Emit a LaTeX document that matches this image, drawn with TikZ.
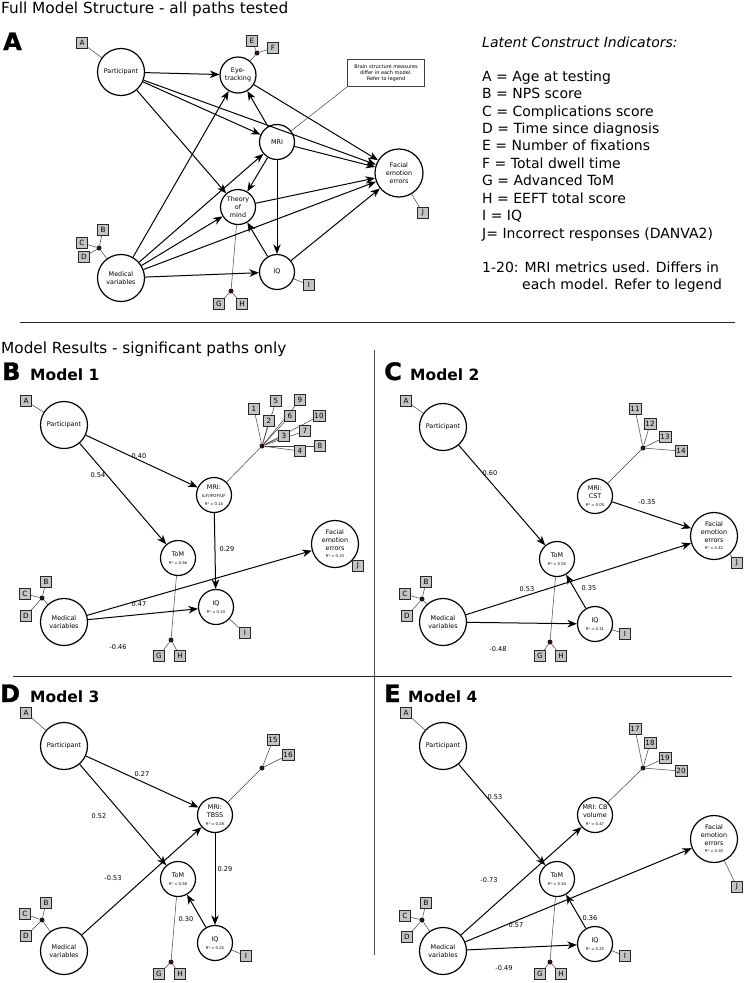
\documentclass[tikz,border=0pt]{standalone}
\usepackage{fontspec}
\setmainfont{DejaVu Sans}
\newfontfamily\heavyfont{DejaVu Sans Bold}[FakeBold=1.2]
\usetikzlibrary{arrows.meta,backgrounds}
\definecolor{dotc}{HTML}{2A1222}
\definecolor{boxg}{HTML}{C4C4C4}
\newcommand\rsq{\fontsize{3.8}{4.6}\selectfont}
\begin{document}
\begin{tikzpicture}[x=1pt,y=-1pt,
 lat/.style={circle,draw,line width=1.2pt,inner sep=0pt,align=center,fill=white,font=\fontsize{6.4}{7.7}\selectfont},
 lg/.style={lat,minimum size=47pt},
 sm/.style={lat,minimum size=35pt},
 ind/.style={draw=black!85,fill=boxg,line width=0.7pt,minimum width=11.5pt,minimum height=11.5pt,inner xsep=1.3pt,inner ysep=0pt,font=\fontsize{7.2}{8}\selectfont},
 jn/.style={circle,fill=dotc,inner sep=0pt,minimum size=5pt},
 pth/.style={-{Stealth[length=9.5pt,width=7.5pt,inset=3pt]},line width=1pt},
 thn/.style={line width=0.5pt,draw=black!75},
 cf/.style={font=\fontsize{6.6}{7}\selectfont},
 note/.style={draw=black!75,line width=0.9pt,fill=white,align=center,font=\fontsize{5}{6}\selectfont,minimum width=77pt,minimum height=27pt,inner sep=1pt},
 ttl/.style={anchor=base west,font=\fontsize{15.3}{18}\selectfont,inner sep=0pt},
 big/.style={anchor=base west,font=\fontsize{24}{28}\selectfont\heavyfont,inner sep=0pt},
 mdl/.style={anchor=base west,font=\fontsize{15.5}{18}\selectfont\bfseries,inner sep=0pt},
 leg/.style={anchor=base west,font=\fontsize{14}{17}\selectfont,inner sep=0pt}
]
\useasboundingbox (0,0) rectangle (744,983);

% ---------------- titles and dividers ----------------
\node[ttl] (t1) at (1,13) {Full Model Structure - all paths tested};
\node[big] (lA) at (3,50) {A};
\node[ttl] (t2) at (1,353) {Model Results - significant paths only};
\node[big] (lB) at (2,380) {B};
\node[mdl] (mB) at (30,380) {Model 1};
\node[big] (lC) at (384,380) {C};
\node[mdl] (mC) at (410,380) {Model 2};
\node[big] (lD) at (0,702) {D};
\node[mdl] (mD) at (30,702) {Model 3};
\node[big] (lE) at (384,702) {E};
\node[mdl] (mE) at (408,702) {Model 4};
\draw[line width=1pt,black!85] (20,322) -- (735,322);
\draw[line width=1pt,black!85] (13,676) -- (732,676);
\draw[line width=1pt,black!70] (374,350) -- (374,955);

% ---------------- legend ----------------
\node[leg,font=\fontsize{14}{17}\selectfont\itshape] (lg0) at (482,47) {Latent Construct Indicators:};
\node[leg] (lg1) at (482,81) {A = Age at testing};
\node[leg] (lg2) at (482,98.5) {B = NPS score};
\node[leg] (lg3) at (482,116) {C = Complications score};
\node[leg] (lg4) at (482,133.4) {D = Time since diagnosis};
\node[leg] (lg5) at (482,150.8) {E = Number of fixations};
\node[leg] (lg6) at (482,168.3) {F = Total dwell time};
\node[leg] (lg7) at (482,185.7) {G = Advanced ToM};
\node[leg] (lg8) at (482,203.2) {H = EEFT total score};
\node[leg] (lg9) at (482,220.6) {I = IQ};
\node[leg] (lg10) at (482,238) {J= Incorrect responses (DANVA2)};
\node[leg] (lg11) at (482,272) {1-20: MRI metrics used. Differs in};
\node[leg] (lg12) at (522,289.5) {each model. Refer to legend};

% ================= PANEL A =================
\node[lg] (aP) at (121,72) {Participant};
\node[lat,minimum size=36pt] (aE) at (238,75) {Eye-\\tracking};
\node[sm] (aM) at (277,142) {MRI};
\node[lg,minimum size=48pt] (aF) at (399,173) {Facial\\emotion\\errors};
\node[sm] (aT) at (238,207) {Theory\\of\\mind};
\node[sm] (aQ) at (277,272) {IQ};
\node[lg] (aD) at (121,278) {Medical\\variables};
\node[note] (anote) at (386,73) {Brain structure measures\\differ in each model.\\Refer to legend};
\node[ind] (aiA) at (82,43) {A};
\node[ind] (aiE) at (252,41) {E};
\node[ind] (aiF) at (273,48) {F};
\node[jn] (ajEF) at (257,53) {};
\node[ind] (aiJ) at (423,213) {J};
\node[ind] (aiI) at (309,285) {I};
\node[ind] (aiB) at (103,230) {B};
\node[ind] (aiC) at (82,243) {C};
\node[ind] (aiD) at (84,257) {D};
\node[jn] (ajBCD) at (99,248) {};
\node[jn] (ajGH) at (231,291) {};
\node[ind] (aiG) at (219,304) {G};
\node[ind] (aiH) at (242,304) {H};
\begin{scope}[on background layer]
\draw[thn] (aiA) -- (aP);
\draw[thn] (aE) -- (ajEF) (ajEF) -- (aiE) (ajEF) -- (aiF);
\draw[thn] (aF) -- (aiJ);
\draw[thn] (aQ) -- (aiI);
\draw[thn] (aD) -- (ajBCD) (ajBCD) -- (aiB) (ajBCD) -- (aiC) (ajBCD) -- (aiD);
\draw[thn] (aT) -- (ajGH) (ajGH) -- (aiG) (ajGH) -- (aiH);
\draw[thn] (aM) -- (anote.south west);
\end{scope}
\draw[pth] (aP) -- (aE);
\draw[pth] (aP) -- (aF);
\draw[pth] (aP) -- (aM);
\draw[pth] (aP) -- (aT);
\draw[pth] (aD) -- (aE);
\draw[pth] (aD) -- (aM);
\draw[pth] (aD) -- (aT);
\draw[pth] (aD) -- (aF);
\draw[pth] (aD) -- (aQ);
\draw[pth] (aM) -- (aE);
\draw[pth] (aM) -- (aT);
\draw[pth] (aM) -- (aQ);
\draw[pth] (aM) -- (aF);
\draw[pth] (aE) -- (aF);
\draw[pth] (aT) -- (aF);
\draw[pth] (aQ) -- (aF);
\draw[pth] (aQ) -- (aT);

% ================= PANEL B =================
\node[lg] (bP) at (64,425) {Participant};
\node[sm] (bM) at (214,495) {MRI:\\{\fontsize{4.2}{5}\selectfont ILF/IFOF/UF}\\{\rsq R² = 0.15}};
\node[lg] (bF) at (335,544) {Facial\\emotion\\errors\\{\rsq R² = 0.33}};
\node[sm] (bT) at (178,558) {ToM\\{\rsq R² = 0.56}};
\node[sm] (bQ) at (216,607) {IQ\\{\rsq R² = 0.33}};
\node[lg] (bD) at (64,622) {Medical\\variables};
\node[ind] (biA) at (26,401) {A};
\node[jn] (bj1) at (262,446) {};
\node[ind] (bi1) at (254,409) {1};
\node[ind] (bi5) at (276,401) {5};
\node[ind] (bi9) at (300,400) {9};
\node[ind] (bi2) at (269,421) {2};
\node[ind] (bi6) at (290,416) {6};
\node[ind] (bi10) at (319,416) {10};
\node[ind] (bi7) at (305,431) {7};
\node[ind] (bi3) at (284,436) {3};
\node[ind] (bi8) at (320,446) {8};
\node[ind] (bi4) at (300,451) {4};
\node[ind] (biJ) at (358,566) {J};
\node[ind] (biI) at (245,633) {I};
\node[ind] (biB) at (46,582) {B};
\node[ind] (biC) at (25,594) {C};
\node[ind] (biD) at (26,616) {D};
\node[jn] (bjB) at (42,598) {};
\node[jn] (bjG) at (171,640) {};
\node[ind] (biG) at (159,656) {G};
\node[ind] (biH) at (180,656) {H};
\begin{scope}[on background layer]
\draw[thn] (biA) -- (bP);
\draw[thn] (bM) -- (bj1);
\foreach \k in {1,...,10} {\draw[thn] (bj1) -- (bi\k);}
\draw[thn] (bF) -- (biJ);
\draw[thn] (bQ) -- (biI);
\draw[thn] (bD) -- (bjB) (bjB) -- (biB) (bjB) -- (biC) (bjB) -- (biD);
\draw[thn] (bT) -- (bjG) (bjG) -- (biG) (bjG) -- (biH);
\end{scope}
\draw[pth] (bP) -- (bM);
\draw[pth] (bP) -- (bT);
\draw[pth] (bM) -- (bQ);
\draw[pth] (bD) -- (bF);
\draw[pth] (bD) -- (bQ);
\node[cf] (bc1) at (139,456) {0.40};
\node[cf] (bc2) at (98,475) {0.54};
\node[cf] (bc3) at (227,549) {0.29};
\node[cf] (bc4) at (139,604) {0.47};
\node[cf] (bc5) at (118,647) {-0.46};

% ================= PANEL C =================
\node[lg] (cP) at (443,427) {Participant};
\node[sm] (cM) at (595,496) {MRI:\\CST\\{\rsq R² = 0.05}};
\node[lg] (cF) at (714,536) {Facial\\emotion\\errors\\{\rsq R² = 0.42}};
\node[sm] (cT) at (557,559) {ToM\\{\rsq R² = 0.55}};
\node[sm] (cQ) at (595,624) {IQ\\{\rsq R² = 0.31}};
\node[lg] (cD) at (443,622) {Medical\\variables};
\node[ind] (ciA) at (406,401) {A};
\node[jn] (cj1) at (643,448) {};
\node[ind] (ci11) at (635,409) {11};
\node[ind] (ci12) at (650,424) {12};
\node[ind] (ci13) at (665,437) {13};
\node[ind] (ci14) at (681,451) {14};
\node[ind] (ciJ) at (737,563) {J};
\node[ind] (ciI) at (625,634) {I};
\node[ind] (ciB) at (426,582) {B};
\node[ind] (ciC) at (405,594) {C};
\node[ind] (ciD) at (407,616) {D};
\node[jn] (cjB) at (422,599) {};
\node[jn] (cjG) at (550,642) {};
\node[ind] (ciG) at (540,656) {G};
\node[ind] (ciH) at (561,656) {H};
\begin{scope}[on background layer]
\draw[thn] (ciA) -- (cP);
\draw[thn] (cM) -- (cj1);
\foreach \k in {11,...,14} {\draw[thn] (cj1) -- (ci\k);}
\draw[thn] (cF) -- (ciJ);
\draw[thn] (cQ) -- (ciI);
\draw[thn] (cD) -- (cjB) (cjB) -- (ciB) (cjB) -- (ciC) (cjB) -- (ciD);
\draw[thn] (cT) -- (cjG) (cjG) -- (ciG) (cjG) -- (ciH);
\end{scope}
\draw[pth] (cP) -- (cT);
\draw[pth] (cM) -- (cF);
\draw[pth] (cD) -- (cF);
\draw[pth] (cD) -- (cQ);
\draw[pth] (cQ) -- (cT);
\node[cf] (cc1) at (490,473) {0.60};
\node[cf] (cc2) at (647,502) {-0.35};
\node[cf] (cc3) at (527,589) {0.53};
\node[cf] (cc4) at (589,588) {0.35};
\node[cf] (cc5) at (498,649) {-0.48};

% ================= PANEL D =================
\node[lg] (dP) at (64,746) {Participant};
\node[sm] (dM) at (215,815) {MRI:\\TBSS\\{\rsq R² = 0.28}};
\node[sm] (dT) at (178,879) {ToM\\{\rsq R² = 0.58}};
\node[sm] (dQ) at (215,943) {IQ\\{\rsq R² = 0.25}};
\node[lg] (dD) at (64,951) {Medical\\variables};
\node[ind] (diA) at (26,713) {A};
\node[jn] (dj1) at (262,768) {};
\node[ind] (di15) at (273,740) {15};
\node[ind] (di16) at (288,755) {16};
\node[ind] (diI) at (246,956) {I};
\node[ind] (diB) at (46,903) {B};
\node[ind] (diC) at (25,914) {C};
\node[ind] (diD) at (26,936) {D};
\node[jn] (djB) at (42,920) {};
\node[jn] (djG) at (171,962) {};
\node[ind] (diG) at (159,974) {G};
\node[ind] (diH) at (180,974) {H};
\begin{scope}[on background layer]
\draw[thn] (diA) -- (dP);
\draw[thn] (dM) -- (dj1) (dj1) -- (di15) (dj1) -- (di16);
\draw[thn] (dQ) -- (diI);
\draw[thn] (dD) -- (djB) (djB) -- (diB) (djB) -- (diC) (djB) -- (diD);
\draw[thn] (dT) -- (djG) (djG) -- (diG) (djG) -- (diH);
\end{scope}
\draw[pth] (dP) -- (dM);
\draw[pth] (dP) -- (dT);
\draw[pth] (dD) -- (dM);
\draw[pth] (dM) -- (dQ);
\draw[pth] (dQ) -- (dT);
\node[cf] (dc1) at (142,774) {0.27};
\node[cf] (dc2) at (99,816) {0.52};
\node[cf] (dc3) at (225,869) {0.29};
\node[cf] (dc4) at (113,878) {-0.53};
\node[cf] (dc5) at (186,919) {0.30};

% ================= PANEL E =================
\node[lg] (eP) at (443,746) {Participant};
\node[sm] (eM) at (595,815) {MRI: CB\\volume\\{\rsq R² = 0.47}};
\node[lg] (eF) at (714,839) {Facial\\emotion\\errors\\{\rsq R² = 0.30}};
\node[sm] (eT) at (557,879) {ToM\\{\rsq R² = 0.54}};
\node[sm] (eQ) at (595,944) {IQ\\{\rsq R² = 0.25}};
\node[lg] (eD) at (443,951) {Medical\\variables};
\node[ind] (eiA) at (406,713) {A};
\node[jn] (ej1) at (643,768) {};
\node[ind] (ei17) at (635,729) {17};
\node[ind] (ei18) at (650,743) {18};
\node[ind] (ei19) at (665,758) {19};
\node[ind] (ei20) at (681,771) {20};
\node[ind] (eiJ) at (737,887) {J};
\node[ind] (eiI) at (625,956) {I};
\node[ind] (eiB) at (426,903) {B};
\node[ind] (eiC) at (405,916) {C};
\node[ind] (eiD) at (407,937) {D};
\node[jn] (ejB) at (422,920) {};
\node[jn] (ejG) at (550,962) {};
\node[ind] (eiG) at (540,974) {G};
\node[ind] (eiH) at (561,974) {H};
\begin{scope}[on background layer]
\draw[thn] (eiA) -- (eP);
\draw[thn] (eM) -- (ej1);
\foreach \k in {17,...,20} {\draw[thn] (ej1) -- (ei\k);}
\draw[thn] (eF) -- (eiJ);
\draw[thn] (eQ) -- (eiI);
\draw[thn] (eD) -- (ejB) (ejB) -- (eiB) (ejB) -- (eiC) (ejB) -- (eiD);
\draw[thn] (eT) -- (ejG) (ejG) -- (eiG) (ejG) -- (eiH);
\end{scope}
\draw[pth] (eP) -- (eT);
\draw[pth] (eD) -- (eM);
\draw[pth] (eD) -- (eF);
\draw[pth] (eD) -- (eQ);
\draw[pth] (eQ) -- (eT);
\node[cf] (ec1) at (495,797) {0.53};
\node[cf] (ec2) at (489,880) {-0.73};
\node[cf] (ec3) at (516,925) {0.57};
\node[cf] (ec4) at (590,918) {0.36};
\node[cf] (ec5) at (504,968) {-0.49};
\end{tikzpicture}
\end{document}
